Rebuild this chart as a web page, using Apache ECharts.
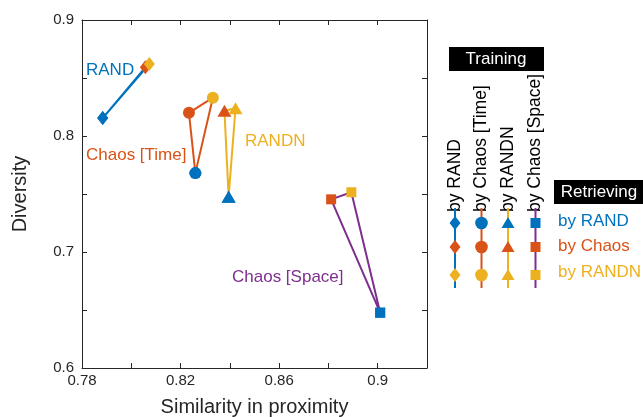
<!DOCTYPE html>
<html><head><meta charset="utf-8">
<script src="https://cdn.jsdelivr.net/npm/echarts@6/dist/echarts.min.js"></script>
<style>html,body{margin:0;padding:0;background:#fff}#c{width:643px;height:417px}</style>
</head><body><div id="c"></div>
<script>
// Training methods (series), retrieval order: by RAND, by Chaos, by RANDN
const trainNames = ['RAND', 'Chaos [Time]', 'RANDN', 'Chaos [Space]'];
const retrieveNames = ['by RAND', 'by Chaos', 'by RANDN'];
const simRAND  = [0.7884, 0.8057, 0.8073];
const divRAND  = [0.8155, 0.8592, 0.8620];
const simTime  = [0.8260, 0.8234, 0.8331];
const divTime  = [0.7680, 0.8200, 0.8330];
const simRANDN = [0.8395, 0.8378, 0.8423];
const divRANDN = [0.7477, 0.8218, 0.8239];
const simSpace = [0.9010, 0.8811, 0.8893];
const divSpace = [0.6477, 0.7454, 0.7515];
const xTicksLabeled = ['0.78', '0.82', '0.86', '0.9'];
const yTicksLabeled = ['0.6', '0.7', '0.8', '0.9'];

const BLUE = '#0072BD', ORANGE = '#D95319', YELLOW = '#EDB120', PURPLE = '#7E2F8E';
const retrieveColors = [BLUE, ORANGE, YELLOW];
const lineColors = [BLUE, ORANGE, YELLOW, PURPLE];
const symbols = ['diamond', 'circle', 'triangle', 'rect'];
const symSizes = [[11, 14], 12, [14, 12], 10];
const AX = '#262626';
const FONT = 'Liberation Sans, Arial, sans-serif';

const sims = [simRAND, simTime, simRANDN, simSpace];
const divs = [divRAND, divTime, divRANDN, divSpace];

const series = sims.map((xs, s) => {
  const pts = xs.map((x, i) => ({value: [x, divs[s][i]], itemStyle: {color: retrieveColors[i]}}));
  pts.push({value: [xs[0], divs[s][0]], itemStyle: {color: retrieveColors[0]}});
  return {
    type: 'line', name: trainNames[s], data: pts,
    symbol: symbols[s], symbolSize: symSizes[s], showAllSymbol: true,
    lineStyle: {color: lineColors[s], width: 2},
    itemStyle: {borderWidth: 0},
    emphasis: {disabled: true}, animation: false, clip: false
  };
});

function fmtX(v) { const s = String(Math.round(v * 100) / 100); return xTicksLabeled.includes(s) ? s : ''; }
function fmtY(v) { const s = String(Math.round(v * 100) / 100); return yTicksLabeled.includes(s) ? s : ''; }

const axCommon = {
  type: 'value', splitLine: {show: false},
  axisLine: {show: true, onZero: false, lineStyle: {color: AX, width: 1}},
  axisTick: {show: true, inside: true, length: 5, lineStyle: {color: AX}},
};

const graphics = [];
function txt(x, y, text, color, size, opts) {
  graphics.push(Object.assign({type: 'text', x: x, y: y, silent: true,
    style: Object.assign({text: text, fill: color, font: size + 'px ' + FONT, textAlign: 'left', textVerticalAlign: 'middle'}, opts && opts.style || {})},
    opts && opts.extra || {}));
}
// in-plot labels
txt(86, 70, trainNames[0], BLUE, 17);
txt(86, 155, trainNames[1], ORANGE, 17);
txt(245, 141, trainNames[2], YELLOW, 17);
txt(232, 277, trainNames[3], PURPLE, 17);

// legend: Training box
graphics.push({type: 'rect', shape: {x: 449, y: 47, width: 95, height: 24}, style: {fill: '#000'}, silent: true});
txt(496, 59.5, 'Training', '#fff', 17, {style: {textAlign: 'center'}});
// Retrieving box
graphics.push({type: 'rect', shape: {x: 554, y: 180, width: 95, height: 24}, style: {fill: '#000'}, silent: true});
txt(599, 192, 'Retrieving', '#fff', 17, {style: {textAlign: 'center'}});

const colX = [455, 481.5, 508, 535.5];
const rowY = [223, 247, 275];
colX.forEach((cx, c) => {
  graphics.push({type: 'text', x: cx, y: 212, rotation: Math.PI / 2, silent: true,
    style: {text: 'by ' + trainNames[c], fill: '#000', font: '17.5px ' + FONT, textAlign: 'left', textVerticalAlign: 'middle'}});
  graphics.push({type: 'line', shape: {x1: cx, y1: 208, x2: cx, y2: 288}, style: {stroke: lineColors[c], lineWidth: 2}, silent: true});
  rowY.forEach((ry, r) => {
    const col = retrieveColors[r];
    if (c === 0) graphics.push({type: 'polygon', shape: {points: [[cx, ry - 7], [cx + 5.5, ry], [cx, ry + 7], [cx - 5.5, ry]]}, style: {fill: col}, silent: true});
    if (c === 1) graphics.push({type: 'circle', shape: {cx: cx, cy: ry, r: 6.3}, style: {fill: col}, silent: true});
    if (c === 2) graphics.push({type: 'polygon', shape: {points: [[cx, ry - 6], [cx + 6.5, ry + 5], [cx - 6.5, ry + 5]]}, style: {fill: col}, silent: true});
    if (c === 3) graphics.push({type: 'rect', shape: {x: cx - 5, y: ry - 5, width: 10, height: 10}, style: {fill: col}, silent: true});
  });
});
const legTextY = [221, 246, 272];
rowY.forEach((ry, r) => txt(558, legTextY[r], retrieveNames[r], retrieveColors[r], 17));

const chart = echarts.init(document.getElementById('c'), null, {renderer: 'canvas'});
chart.setOption({
  animation: false,
  grid: {left: 82, top: 20, right: 216, bottom: 49, containLabel: false, outerBoundsMode: 'none'},
  xAxis: [
    Object.assign({}, axCommon, {position: 'bottom', min: 0.78, max: 0.92, interval: 0.02,
      axisLabel: {formatter: fmtX, color: AX, fontSize: 15, fontFamily: FONT, margin: 5, showMinLabel: true, showMaxLabel: true},
      name: 'Similarity in proximity', nameLocation: 'middle', nameGap: 29,
      nameTextStyle: {color: AX, fontSize: 20, fontFamily: FONT}}),
    Object.assign({}, axCommon, {position: 'top', min: 0.78, max: 0.92, interval: 0.02, axisLabel: {show: false}})
  ],
  yAxis: [
    Object.assign({}, axCommon, {position: 'left', min: 0.6, max: 0.9, interval: 0.05,
      axisLabel: {formatter: fmtY, color: AX, fontSize: 15, fontFamily: FONT, margin: 8},
      name: 'Diversity', nameLocation: 'middle', nameGap: 52,
      nameTextStyle: {color: AX, fontSize: 20, fontFamily: FONT}}),
    Object.assign({}, axCommon, {position: 'right', min: 0.6, max: 0.9, interval: 0.05, axisLabel: {show: false}})
  ],
  series: series,
  graphic: graphics
});
</script></body></html>
